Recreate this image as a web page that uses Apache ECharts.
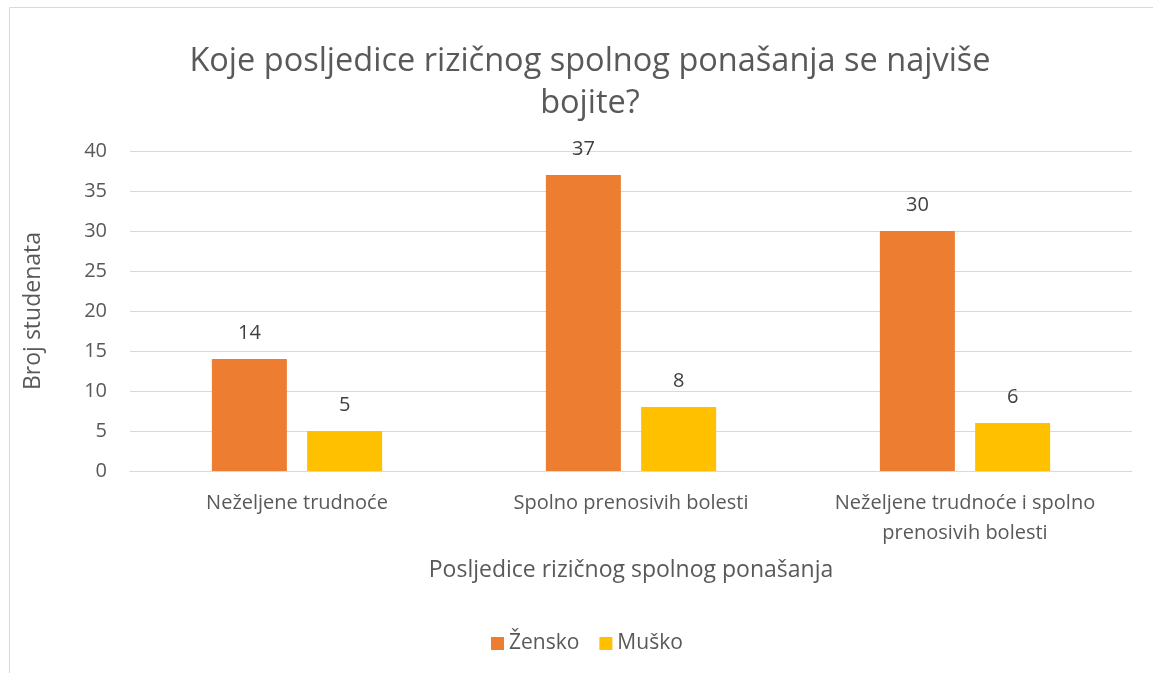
<!DOCTYPE html>
<html>
<head>
<meta charset="utf-8">
<script src="https://cdn.jsdelivr.net/npm/echarts@6/dist/echarts.min.js"></script>
<style>
  html, body { margin: 0; padding: 0; background: #fff; }
  #chart { width: 1153px; height: 673px; }
</style>
</head>
<body>
<div id="chart"></div>
<script>
var categories = [
  'Neželjene trudnoće',
  'Spolno prenosivih bolesti',
  'Neželjene trudnoće i spolno\nprenosivih bolesti'
];
var zensko = [14, 37, 30];
var musko = [5, 8, 6];
var seriesNames = ['Žensko', 'Muško'];

var myChart = echarts.init(document.getElementById('chart'));
var font = '"Open Sans", sans-serif';

var option = {
  backgroundColor: '#fff',
  textStyle: { fontFamily: font },
  title: {
    text: 'Koje posljedice rizičnog spolnog ponašanja se najviše\nbojite?',
    left: 585,
    top: 36,
    textAlign: 'center',
    textStyle: {
      fontFamily: font,
      fontSize: 32.5,
      fontWeight: 'normal',
      color: '#595959',
      lineHeight: 42
    }
  },
  // chart frame
  graphic: [{
    type: 'rect',
    shape: { x: 9.5, y: 7.5, width: 1160, height: 700 },
    style: { fill: 'none', stroke: '#d9d9d9', lineWidth: 1 },
    silent: true
  }],
  legend: {
    data: seriesNames,
    top: 628,
    left: 486,
    itemWidth: 13,
    itemHeight: 13,
    itemGap: 20,
    icon: 'rect',
    textStyle: { fontFamily: font, fontSize: 21, color: '#595959' }
  },
  grid: { left: 130, right: 21, top: 151, bottom: 202 },
  xAxis: {
    type: 'category',
    data: categories,
    name: 'Posljedice rizičnog spolnog ponašanja',
    nameLocation: 'middle',
    nameGap: 88,
    nameTextStyle: { fontFamily: font, fontSize: 23, color: '#595959' },
    axisLine: { lineStyle: { color: '#d9d9d9', width: 1 } },
    axisTick: { show: false },
    axisLabel: {
      interval: 0,
      margin: 17,
      fontFamily: font,
      fontSize: 20,
      color: '#595959',
      lineHeight: 30
    }
  },
  yAxis: {
    type: 'value',
    min: 0,
    max: 40,
    interval: 5,
    name: 'Broj studenata',
    nameLocation: 'middle',
    nameGap: 85,
    nameTextStyle: { fontFamily: font, fontSize: 23, color: '#595959' },
    axisLine: { show: false },
    axisTick: { show: false },
    splitLine: { lineStyle: { color: '#d9d9d9', width: 1 } },
    axisLabel: {
      margin: 23,
      fontFamily: font,
      fontSize: 20,
      color: '#595959'
    }
  },
  series: [
    {
      name: seriesNames[0],
      type: 'bar',
      data: zensko,
      barWidth: 75,
      barGap: '27%',
      itemStyle: { color: '#ed7d31' },
      label: { show: true, position: 'top', distance: 16, fontFamily: font, fontSize: 20, color: '#404040' }
    },
    {
      name: seriesNames[1],
      type: 'bar',
      data: musko,
      barWidth: 75,
      barGap: '27%',
      itemStyle: { color: '#ffc000' },
      label: { show: true, position: 'top', distance: 16, fontFamily: font, fontSize: 20, color: '#404040' }
    }
  ]
};

myChart.setOption(option);
window.addEventListener('resize', myChart.resize);
</script>
</body>
</html>
